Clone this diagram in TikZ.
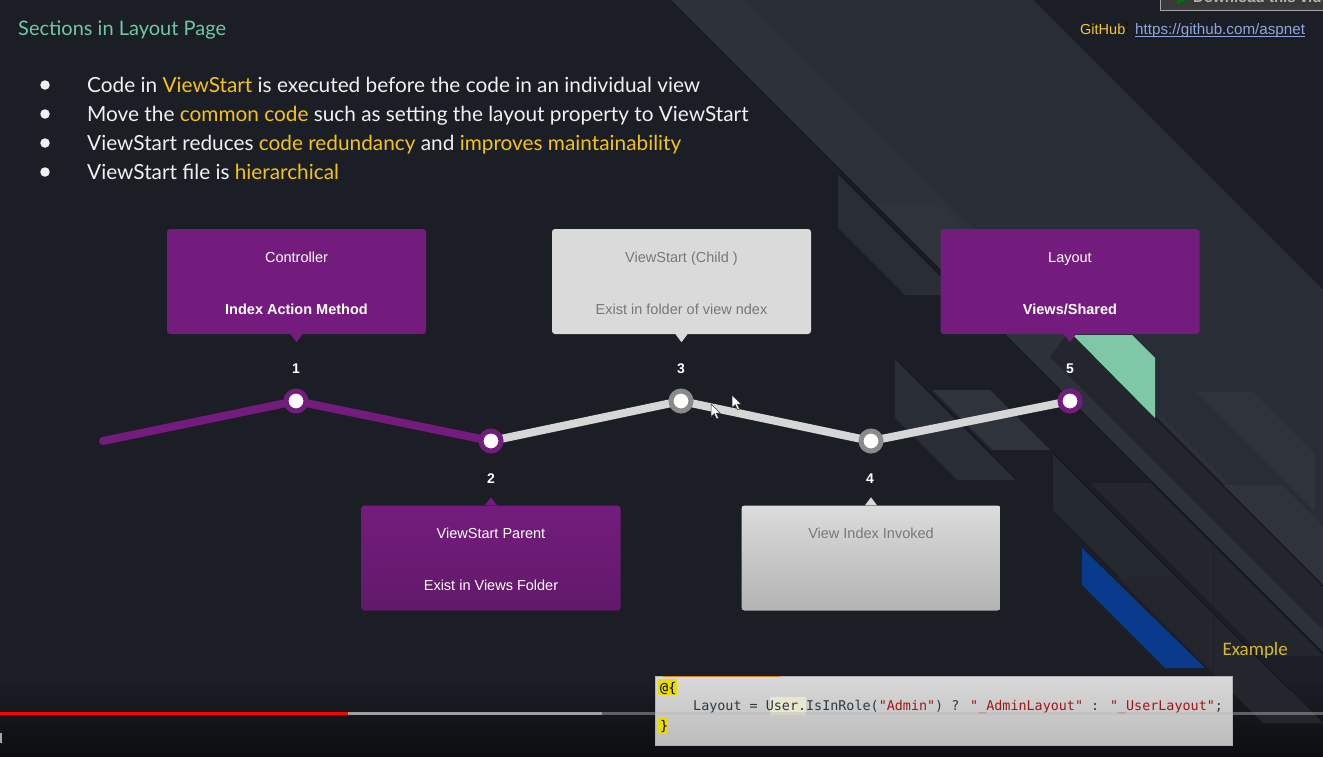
\documentclass[tikz,border=0pt]{standalone}
\usepackage{fontspec}
\setmainfont{Lato}
\newfontfamily\boxfont{Liberation Sans}
\newfontfamily\codefont{DejaVu Sans Mono}
\newfontfamily\notefont{Carlito}
\usetikzlibrary{calc}

\definecolor{bgbase}{HTML}{1B1E25}
\definecolor{bgfoot}{HTML}{0C0D10}
\definecolor{bandA}{HTML}{292D35}
\definecolor{bandB}{HTML}{2F333B}
\definecolor{bandC}{HTML}{23262D}
\definecolor{edgeline}{HTML}{15171C}
\definecolor{mint}{HTML}{7EC8A6}
\definecolor{deepblue}{HTML}{0A3A8C}
\definecolor{titlegreen}{HTML}{72C7A2}
\definecolor{hilite}{HTML}{F2C318}
\definecolor{plum}{HTML}{731C7D}
\definecolor{plumdark}{HTML}{62196A}
\definecolor{paleg}{HTML}{DADADA}
\definecolor{paleglow}{HTML}{B3B3B3}
\definecolor{ringgrey}{HTML}{8A8A8A}
\definecolor{railgrey}{HTML}{D6D6D6}
\definecolor{boxtext}{HTML}{787878}
\definecolor{linkblue}{HTML}{8FA6DC}
\definecolor{codestr}{HTML}{A31515}
\definecolor{codeink}{HTML}{2A3A44}
\definecolor{notegold}{HTML}{D6B92C}

\newcommand{\hl}[1]{\textcolor{hilite}{#1}}

\pgfdeclarelayer{deco}
\pgfdeclarelayer{rail}
\pgfsetlayers{deco,rail,main}

\begin{document}
\begin{tikzpicture}[x=1pt,y=-1pt,
  slab/.style={rectangle, rounded corners=3pt, minimum width=259pt,
    minimum height=105pt, inner sep=0pt},
  plumslab/.style={slab, fill=plum},
  greyslab/.style={slab, fill=paleg},
  slabtxt/.style={font=\boxfont\fontsize{14.5}{17}\selectfont, anchor=base,
    inner sep=0pt},
  bullettxt/.style={font=\fontsize{20.8}{25}\selectfont, text=white!94!black,
    anchor=base west, inner sep=0pt},
  bulletdot/.style={circle, fill=white!94!black, minimum size=9.5pt, inner sep=0pt},
  stepnum/.style={font=\boxfont\bfseries\fontsize{14}{16}\selectfont,
    text=white, anchor=base, inner sep=0pt},
  railplum/.style={line width=8pt, draw=plum, line cap=round, line join=round},
  railpale/.style={line width=8pt, draw=railgrey, line join=round},
  dotplum/.style={circle, fill=white, draw=plum, line width=5pt,
    minimum size=20pt, inner sep=0pt},
  dotgrey/.style={circle, fill=white, draw=ringgrey, line width=5pt,
    minimum size=20pt, inner sep=0pt},
]
\useasboundingbox (0,0) rectangle (1323,756);

% ---------- backdrop ----------
\begin{pgfonlayer}{deco}
\fill[bgbase] (0,0) rectangle (1323,756);
\shade[top color=bgbase, bottom color=bgfoot] (0,680) rectangle (1323,756);
% wide diagonal band
\fill[bandA] (670,0) -- (1033,0) -- (1323,290) -- (1323,653) -- cycle;
\fill[bandB!60!bandA] (670,0) -- (745,0) -- (1323,578) -- (1323,653) -- cycle;
% stripes left of the band
\fill[bandA] (838,173) -- (960,295) -- (905,295) -- (838,228) -- cycle;
\fill[bandB] (875,203) -- (937,203) -- (1000,266) -- (938,266) -- cycle;
\fill[bandA] (895,358) -- (1017,480) -- (957,480) -- (895,418) -- cycle;
\fill[bandB] (932,390) -- (990,390) -- (1050,450) -- (992,450) -- cycle;
\fill[bandC!60!bandA] (1053,453) -- (1215,615) -- (1215,672) -- (1053,510) -- cycle;
% stripes inside and right of the band
\fill[bandC] (1070,330) -- (1323,583) -- (1323,630) -- (1050,357) -- cycle;
\fill[bandB] (1195,392) -- (1253,392) -- (1315,454) -- (1315,512) -- cycle;
\fill[bandB] (1223,485) -- (1282,485) -- (1323,526) -- (1323,585) -- cycle;
\fill[bandC] (1090,483) -- (1150,483) -- (1323,656) -- (1263,656) -- cycle;
\fill[bandC] (1117,577) -- (1177,577) -- (1323,723) -- (1263,723) -- cycle;
\draw[edgeline, line width=1.2pt] (670,0) -- (1323,653);
\draw[edgeline, line width=1.2pt] (838,173) -- (960,295);
\draw[edgeline, line width=1.2pt] (895,358) -- (1017,480);
\draw[edgeline, line width=1.2pt] (1053,453) -- (1290,690);
\draw[edgeline, line width=1.2pt] (1155,418) -- (1323,586);
\draw[edgeline!60!bandA, line width=0.8pt] (1213,547) -- (1213,700);
% accent slabs
\fill[mint] (1073,335) -- (1132,335) -- (1155,358) -- (1155,418) -- cycle;
\fill[deepblue] (1082,548) -- (1205,668) -- (1165,668) -- (1082,585) -- cycle;
\end{pgfonlayer}

% ---------- heading and bullets ----------
\node[font=\fontsize{20}{24}\selectfont, text=titlegreen, anchor=base west,
  inner sep=0pt] (title) at (18,35) {Sections in Layout Page};

\node[bulletdot] (d1) at (45,85) {};
\node[bulletdot] (d2) at (45,114) {};
\node[bulletdot] (d3) at (45,143) {};
\node[bulletdot] (d4) at (45,172) {};
\node[bullettxt] (l1) at (87,92)
  {Code in \hl{ViewStart} is executed before the code in an individual view};
\node[bullettxt] (l2) at (87,121)
  {Move the \hl{common code} such as setting the layout property to ViewStart};
\node[bullettxt] (l3) at (87,150)
  {ViewStart reduces \hl{code redundancy} and \hl{improves maintainability}};
\node[bullettxt] (l4) at (87,179)
  {ViewStart file is \hl{hierarchical}};

% ---------- GitHub link and player button ----------
\node[font=\boxfont\fontsize{14.5}{17}\selectfont, text=hilite!90!white,
  anchor=base west, inner sep=0pt] (gh) at (1080,34) {GitHub};
\node[font=\boxfont\fontsize{14.5}{17}\selectfont, text=black,
  anchor=base west, inner sep=0pt] (ghcolon) at (1125,31) {:};
\node[font=\boxfont\fontsize{15.2}{17}\selectfont, text=linkblue,
  anchor=base west, inner sep=0pt] (ghurl) at (1135,34) {https://github.com/aspnet};
\draw[linkblue, line width=0.9pt] ($(ghurl.base west)+(0,2.5)$) -- ($(ghurl.base east)+(0,2.5)$);

\node[rectangle, fill=gray!45!black, draw=gray!70, line width=1.2pt,
  minimum width=170pt, minimum height=20pt, anchor=south west,
  inner sep=0pt] (dlbtn) at (1160,11) {};
\fill[green!45!black] (1177,-6) -- (1186,0) -- (1177,5) -- cycle;
\node[font=\boxfont\bfseries\fontsize{15}{17}\selectfont, text=gray!60,
  anchor=base west, inner sep=0pt] (dltxt) at (1193,2) {Download this video};

% ---------- step rail ----------
\coordinate (start) at (103,441);
\node[dotplum] (n1) at (296,401) {};
\node[dotplum] (n2) at (491,441) {};
\node[dotgrey] (n3) at (681,401) {};
\node[dotgrey] (n4) at (871,441) {};
\node[dotplum] (n5) at (1070,401) {};
\begin{pgfonlayer}{rail}
\draw[railplum] (start) -- (n1.center) -- (n2.center);
\draw[railpale] (n2.center) -- (n3.center) -- (n4.center) -- (n5.center);
\end{pgfonlayer}

\node[stepnum] (s1) at (296,373) {1};
\node[stepnum] (s3) at (681,373) {3};
\node[stepnum] (s5) at (1070,373) {5};
\node[stepnum] (s2) at (491,483) {2};
\node[stepnum] (s4) at (870,483) {4};

% ---------- callout boxes ----------
\node[plumslab] (c1) at (296.5,281.5) {};
\node[greyslab] (c3) at (681.5,281.5) {};
\node[plumslab] (c5) at (1070,281.5) {};
\node[slab, top color=plum, bottom color=plumdark] (c2) at (491,558) {};
\node[slab, top color=paleg!95!white, bottom color=paleglow] (c4) at (871,558) {};

\fill[plum] ($(c1.south)+(-6,0)$) -- ($(c1.south)+(6,0)$) -- ($(c1.south)+(0,8)$) -- cycle;
\fill[paleg] ($(c3.south)+(-6,0)$) -- ($(c3.south)+(6,0)$) -- ($(c3.south)+(0,8)$) -- cycle;
\fill[plum] ($(c5.south)+(-6,0)$) -- ($(c5.south)+(6,0)$) -- ($(c5.south)+(0,8)$) -- cycle;
\fill[plum] ($(c2.north)+(-6,0)$) -- ($(c2.north)+(6,0)$) -- ($(c2.north)+(0,-8)$) -- cycle;
\fill[paleg] ($(c4.north)+(-6,0)$) -- ($(c4.north)+(6,0)$) -- ($(c4.north)+(0,-8)$) -- cycle;

\node[slabtxt, text=white] (c1a) at ($(c1.north)+(0,34)$) {Controller};
\node[slabtxt, text=white] (c1b) at ($(c1.north)+(0,86)$) {\bfseries Index Action Method};
\node[slabtxt, text=boxtext] (c3a) at ($(c3.north)+(0,34)$) {ViewStart (Child )};
\node[slabtxt, text=boxtext] (c3b) at ($(c3.north)+(0,86)$) {Exist in folder of view ndex};
\node[slabtxt, text=white] (c5a) at ($(c5.north)+(0,34)$) {Layout};
\node[slabtxt, text=white] (c5b) at ($(c5.north)+(0,86)$) {\bfseries Views/Shared};
\node[slabtxt, text=white] (c2a) at ($(c2.north)+(0,33)$) {ViewStart Parent};
\node[slabtxt, text=white] (c2b) at ($(c2.north)+(0,85)$) {Exist in Views Folder};
\node[slabtxt, text=boxtext] (c4a) at ($(c4.north)+(0,33)$) {View Index Invoked};

% ---------- mouse pointers ----------
\foreach \px/\py in {732/395, 711/404}{
  \filldraw[fill=white, draw=black!80, line width=0.5pt, shift={(\px,\py)}, scale=0.8]
    (0,0) -- (0,16) -- (4,12) -- (7,18.5) -- (9.5,17.5) -- (6.5,11.5) -- (11.5,11.5) -- cycle;
}

% ---------- example note and code ----------
\node[font=\notefont\fontsize{19}{22}\selectfont, text=notegold, anchor=base east,
  inner sep=0pt] (ex) at (1288,655) {Example};

\node[rectangle, top color=gray!30, bottom color=gray!52, draw=gray!60,
  line width=0.6pt, minimum width=577pt, minimum height=69pt, inner sep=0pt]
  (code) at (943.5,710.5) {};
\draw[orange!70!gray, line width=1.2pt] (663,676.5) -- (780,676.5);
\fill[yellow!80!olive] (658,679) rectangle (677,695);
\fill[yellow!80!olive] (658,718) rectangle (668,734);
\fill[gray!40!olive!20] (770,697) rectangle (806,715);
\node[font=\codefont\fontsize{13.4}{15}\selectfont, text=black, anchor=base west,
  inner sep=0pt] (cl1) at (660,692) {@\{};
\node[font=\codefont\fontsize{13.4}{15}\selectfont, text=codeink, anchor=base west,
  inner sep=0pt] (cl2) at (693,710)
  {Layout = User.IsInRole(\textcolor{codestr}{"Admin"}) ? \textcolor{codestr}{"\_AdminLayout"} : \textcolor{codestr}{"\_UserLayout"};};
\node[font=\codefont\fontsize{13.4}{15}\selectfont, text=black, anchor=base west,
  inner sep=0pt] (cl3) at (660,730) {\}};

% ---------- player progress bar ----------
\fill[gray!55, opacity=0.45] (602,711.5) rectangle (1323,715);
\fill[gray!75] (348,711.5) rectangle (602,715);
\fill[red] (0,711.5) rectangle (348,715);
\fill[gray!70] (0,733) rectangle (1.8,743);
\end{tikzpicture}
\end{document}
